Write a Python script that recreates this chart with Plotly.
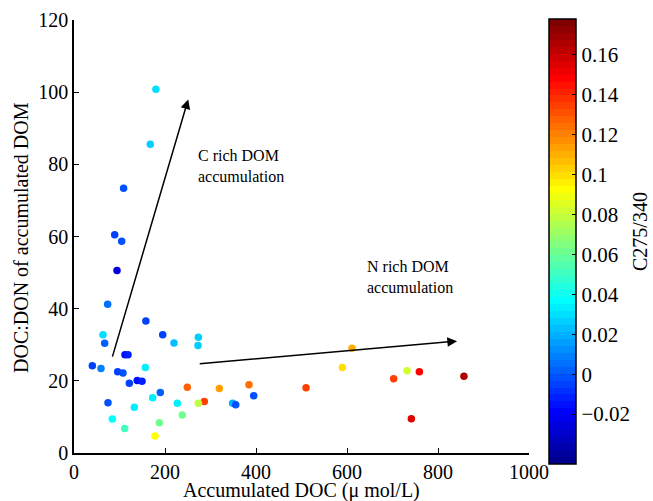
import plotly.graph_objects as go

# Accumulated DOC (umol/L)
doc = [180, 167.7, 109, 89.4, 104.8, 94.5, 74, 158, 63.7, 195, 219.8, 67.4,
       112, 118.7, 40.3, 59.3, 156.8, 96, 107.7, 139, 149.5, 121.6, 189.7,
       172.9, 74.7, 132.6, 227.1, 249, 238, 84.2, 187.5, 111.4, 178,
       273.3, 272.5, 319.4, 384.6, 395, 286.4, 273.3, 348.7, 355.4,
       510, 611, 589.8, 702.5, 731.9, 759, 741.4, 857]
# DOC:DON ratio
ratio = [100.8, 85.6, 73.4, 60.5, 58.7, 50.6, 41.2, 36.6, 32.8, 32.8, 30.5, 30.4,
         27.2, 27.2, 24.2, 23.4, 23.7, 22.5, 22.2, 20.1, 19.9, 19.3, 16.8,
         15.3, 13.9, 12.7, 13.8, 18.2, 10.5, 9.4, 8.4, 6.8, 4.7,
         32.1, 29.8, 17.9, 18.9, 15.9, 14.3, 13.8, 13.8, 13.4,
         18.1, 29.0, 23.7, 20.6, 22.8, 22.5, 9.5, 21.3]
# C275/340
c_ratio = [0.030, 0.027, -0.003, -0.005, 0.000, -0.025, 0.006, -0.004, 0.030, -0.004, 0.022, 0.002,
           -0.015, -0.013, -0.005, 0.010, 0.032, -0.005, -0.003, -0.015, -0.012, -0.004, 0.001,
           0.032, -0.002, 0.034, 0.032, 0.128, 0.061, 0.036, 0.060, 0.050, 0.092,
           0.028, 0.028, 0.112, 0.125, -0.002, 0.136, 0.078, 0.020, 0.000,
           0.135, 0.110, 0.100, 0.135, 0.083, 0.147, 0.156, 0.167]

x_ticks = [0, 200, 400, 600, 800, 1000]
y_ticks = [0, 20, 40, 60, 80, 100, 120]
cb_ticks = [-0.02, 0, 0.02, 0.04, 0.06, 0.08, 0.1, 0.12, 0.14, 0.16]
cb_labels = ["\u22120.02", "0", "0.02", "0.04", "0.06", "0.08", "0.1", "0.12", "0.14", "0.16"]


def jet(t):
    def c(v):
        return max(0.0, min(1.0, v))
    r = c(1.5 - abs(4 * t - 3))
    g = c(1.5 - abs(4 * t - 2))
    b = c(1.5 - abs(4 * t - 1))
    return "rgb(%d,%d,%d)" % (round(r * 255), round(g * 255), round(b * 255))


n = 64
cscale = []
for i in range(n):
    col = jet((i + 1) / n)
    cscale.append([i / n, col])
    cscale.append([(i + 1) / n, col])

FONT = "Liberation Serif"
W, H = 653, 501
L, T = 74, 20
R = W - 529
B = H - 453
PW, PH = 455.0, 433.0

fig = go.Figure()
fig.add_trace(go.Scatter(
    x=doc, y=ratio, mode="markers",
    marker=dict(size=7.5, color=c_ratio, colorscale=cscale, cmin=-0.045, cmax=0.178,
                line=dict(width=0),
                colorbar=dict(
                    x=(549 - 74) / PW, xanchor="left", xpad=0,
                    y=(453 - 241.5) / PH, yanchor="middle", ypad=0,
                    len=445, lenmode="pixels", thickness=27, thicknessmode="pixels",
                    outlinecolor="black", outlinewidth=1.5,
                    tickmode="array", tickvals=cb_ticks, ticktext=cb_labels,
                    ticks="inside", ticklen=4, tickcolor="black",
                    tickfont=dict(family=FONT, size=21, color="black"),
                )),
    showlegend=False,
))

fig.update_layout(
    width=W, height=H,
    margin=dict(l=L, r=R, t=T, b=B, autoexpand=False),
    paper_bgcolor="white", plot_bgcolor="white",
    font=dict(family=FONT, size=20, color="black"),
    xaxis=dict(range=[0, 1000], tickmode="array", tickvals=x_ticks,
               showline=True, linecolor="black", linewidth=1.5, mirror=False,
               ticks="inside", ticklen=5, tickcolor="black", tickwidth=1,
               showgrid=False, zeroline=False, automargin=False),
    yaxis=dict(range=[0, 120], tickmode="array", tickvals=y_ticks,
               showline=True, linecolor="black", linewidth=1.5, mirror=False,
               ticks="inside", ticklen=5, tickcolor="black", tickwidth=1,
               showgrid=False, zeroline=False, automargin=False),
)

# Axis titles
fig.add_annotation(x=0.5, y=-(490 - 453) / PH, xref="paper", yref="paper",
                   text="Accumulated DOC (\u03bc mol/L)", showarrow=False,
                   xanchor="center", yanchor="middle",
                   font=dict(family=FONT, size=20, color="black"))
fig.add_annotation(x=(21 - 74) / PW, y=(453 - 238) / PH, xref="paper", yref="paper",
                   text="DOC:DON of accumulated DOM", showarrow=False, textangle=-90,
                   xanchor="center", yanchor="middle",
                   font=dict(family=FONT, size=20, color="black"))
fig.add_annotation(x=(640 - 74) / PW, y=(453 - 232) / PH, xref="paper", yref="paper",
                   text="C275/340", showarrow=False, textangle=-90,
                   xanchor="center", yanchor="middle",
                   font=dict(family=FONT, size=20, color="black"))

# Arrows
fig.add_annotation(x=251, y=98, ax=83.5, ay=26.3, xref="x", yref="y", axref="x", ayref="y",
                   text="", showarrow=True, arrowhead=2, arrowsize=1.3, arrowwidth=1.5,
                   arrowcolor="black")
fig.add_annotation(x=842, y=31.0, ax=273, ay=24.7, xref="x", yref="y", axref="x", ayref="y",
                   text="", showarrow=True, arrowhead=2, arrowsize=1.3, arrowwidth=1.5,
                   arrowcolor="black")

# Text labels
fig.add_annotation(x=(195.7 - 74) / 0.455, y=(453 - 166) / 3.608, xref="x", yref="y",
                   text="C rich DOM<br>accumulation", showarrow=False, align="left",
                   xanchor="left", yanchor="middle",
                   font=dict(family=FONT, size=16, color="black"))
fig.add_annotation(x=(365 - 74) / 0.455, y=(453 - 277) / 3.608, xref="x", yref="y",
                   text="N rich DOM<br>accumulation", showarrow=False, align="left",
                   xanchor="left", yanchor="middle",
                   font=dict(family=FONT, size=16, color="black"))

fig.write_html("out.html", config={"displayModeBar": False},
               post_script="document.body.style.margin='0';document.body.style.overflow='hidden';")
